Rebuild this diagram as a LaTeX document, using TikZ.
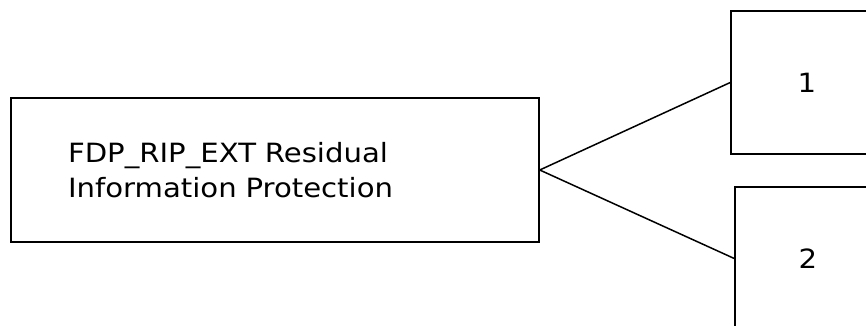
\documentclass[tikz,border=0pt]{standalone}
\usepackage{fontspec}
\setmainfont{DejaVu Sans}[FakeStretch=1.1]
\usepackage{tikz}
\tikzstyle{every node}=[font=\fontsize{26.5}{35}\selectfont]
\tikzstyle{box}=[draw, rectangle, inner sep=0pt, line width=1.5pt]

\begin{document}
\begin{tikzpicture}[x=1pt, y=-1pt, line width=1.5pt]
\clip (0,0) rectangle (866,326);
% Component
	\node[box, minimum width=528pt, minimum height=144pt, text width=414pt, align=left] (rip) at (275,170) {FDP\_RIP\_EXT Residual\\Information Protection};
% Elements
	\node[box, minimum width=152pt, minimum height=143pt] (one) at (807,82.5) {1};
	\node[box, minimum width=146pt, minimum height=143pt] (two) at (808,258.5) {2};
% Links
	\draw (rip.east) -- (one.west);
	\draw (rip.east) -- (two.west);
\end{tikzpicture}
\end{document}
